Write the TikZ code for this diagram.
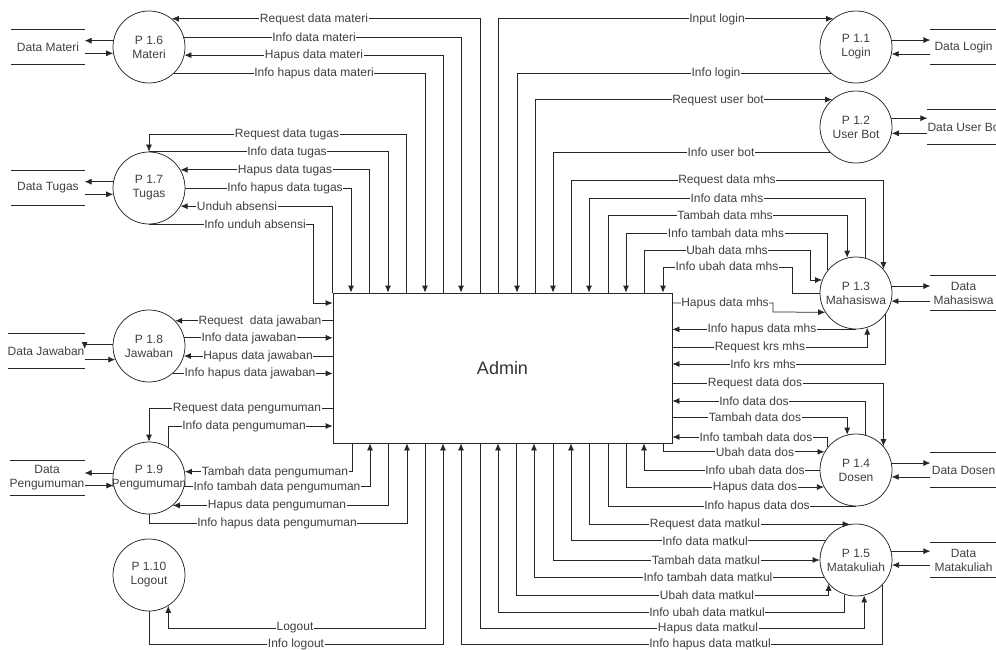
\documentclass[tikz,border=0pt]{standalone}
\usepackage{fontspec}
\setmainfont{Liberation Sans}
\usetikzlibrary{arrows.meta,positioning}
\newcommand{\fs}{\fontsize{12}{14}\selectfont}
\tikzset{proc/.style={draw=black!85, line width=0.75pt, circle, minimum size=72pt, inner sep=0pt, align=center, text=black!75, font=\fs},
plain/.style={draw=black!85, line width=0.75pt},
line/.style={plain, -{Latex[length=7pt,width=6pt]}},
lbl/.style={fill=white, inner xsep=0.6pt, inner ysep=0.4pt, text=black!75, font=\fs},
store/.style={minimum width=#1, minimum height=35pt, inner sep=0pt, align=center, text=black!75, font=\fs,
  append after command={(\tikzlastnode.north west) edge[plain] (\tikzlastnode.north east)
    (\tikzlastnode.south west) edge[plain] (\tikzlastnode.south east)}},
store/.default=73pt
}

\begin{document}
\begin{tikzpicture}[x=1pt,y=-1pt]
\useasboundingbox (0,0) rectangle (996,650);
\node[draw=black!85, line width=0.75pt, minimum width=339pt, minimum height=150pt, text=black!80, font=\fontsize{18}{20}\selectfont] (admin) at (502.5,368) {Admin};
% processes
\node[proc] (p16) at (149,47) {P 1.6\\Materi};
\node[proc] (p17) at (149,188) {P 1.7\\Tugas};
\node[proc] (p18) at (149,346) {P 1.8\\Jawaban};
\node[proc] (p19) at (149,478) {P 1.9\\\makebox[0pt]{Pengumuman}};
\node[proc] (p110) at (149,575) {P 1.10\\Logout};
\node[proc] (p11) at (856,47) {P 1.1\\Login};
\node[proc] (p12) at (856,127) {P 1.2\\User Bot};
\node[proc] (p13) at (856,293) {P 1.3\\Mahasiswa};
\node[proc] (p14) at (856,470) {P 1.4\\Dosen};
\node[proc] (p15) at (856,560) {P 1.5\\Matakuliah};
% data stores
\node[store, left=28pt of p16] (s16) {Data Materi};
\node[store, left=28pt of p17] (s17) {Data Tugas};
\node[store, left=28pt of p18, yshift=-5pt] (s18) {Data Jawaban};
\node[store, left=28pt of p19] (s19) {Data\\Pengumuman};
\node[store=66pt, right=38pt of p11] (s11) {Data Login};
\node[store=66pt, right=35pt of p12] (s12) {Data User Bot};
\node[store=66pt, right=38pt of p13] (s13) {Data\\Mahasiswa};
\node[store=66pt, right=38pt of p14] (s14) {Data Dosen};
\node[store=66pt, right=38pt of p15] (s15) {Data\\Matakuliah};
\draw[line] (p16.170) -- (s16.east |- p16.170);
\draw[line] (s16.east |- p16.190) -- (p16.190);
\draw[line] (p17.170) -- (s17.east |- p17.170);
\draw[line] (s17.east |- p17.190) -- (p17.190);
\draw[line] (p18.177) -| (s18.east |- 0,349);
\draw[line] (s18.east |- p18.202) -- (p18.202);
\draw[line] (p19.172) -- (s19.east |- p19.172);
\draw[line] (s19.east |- p19.192) -- (p19.192);
\draw[line] (p11.11) -- (s11.west |- p11.11);
\draw[line] (s11.west |- p11.-11) -- (p11.-11);
\draw[line] (p12.14) -- (s12.west |- p12.14);
\draw[line] (s12.west |- p12.-10) -- (p12.-10);
\draw[line] (p13.11) -- (s13.west |- p13.11);
\draw[line] (s13.west |- p13.-13) -- (p13.-13);
\draw[line] (p14.11) -- (s14.west |- p14.11);
\draw[line] (s14.west |- p14.-11) -- (p14.-11);
\draw[line] (p15.14) -- (s15.west |- p15.14);
\draw[line] (s15.west |- p15.-8) -- (p15.-8);
% materi
\draw[line] (admin.north -| 480,0) |- (p16.51) node[lbl] (n1) at (314,19) {Request data materi};
\draw[line] (p16.16) -| (admin.north -| 461,0) node[lbl] (n2) at (314,37) {Info data materi};
\draw[line] (admin.north -| 443,0) |- (p16.-13) node[lbl] (n3) at (314,55) {Hapus data materi};
\draw[line] (p16.-46) -| (admin.north -| 425,0) node[lbl] (n4) at (314,73) {Info hapus data materi};
% tugas
\draw[line] (admin.north -| 406,0) |- (p17.north |- 0,134) -- (p17.north) node[lbl] (n5) at (287,134) {Request data tugas};
\draw[line] (p17.north) -| (admin.north -| 388,0) node[lbl] (n6) at (287,152) {Info data tugas};
\draw[line] (admin.north -| 369,0) |- (p17.30) node[lbl] (n7) at (285,170) {Hapus data tugas};
\draw[line] (p17.east) -| (admin.north -| 351,0) node[lbl] (n8) at (285,188) {Info hapus data tugas};
\draw[line] (admin.north west) |- (p17.-30) node[lbl] (n9) at (237,206) {Unduh absensi};
\draw[line] (p17.south) -| (313,303) -- (admin.west |- 0,303) node[lbl] (n10) at (255,224) {Info unduh absensi};
% jawaban
\draw[line] (admin.west |- p18.44) -- (p18.44) node[lbl] (n11) at (260,321) {Request\ \ data jawaban};
\draw[line] (p18.13) -- (admin.west |- p18.13) node[lbl] (n12) at (249,338) {Info data jawaban};
\draw[line] (admin.west |- p18.-16) -- (p18.-16) node[lbl] (n13) at (258,356) {Hapus data jawaban};
\draw[line] (p18.-49) -- (admin.west |- p18.-49) node[lbl] (n14) at (250,373) {Info hapus data jawaban};
% pengumuman
\draw[line] (admin.west |- 0,408) -| (p19.north) node[lbl] (n15) at (247,408) {Request data pengumuman};
\draw[line] (p19.58) |- (admin.west |- 0,426) node[lbl] (n16) at (244,426) {Info data pengumuman};
\draw[line] (admin.south -| 352,0) |- (p19.10) node[lbl] (n17) at (275,472) {Tambah data pengumuman};
\draw[line] (p19.-14) -| (admin.south -| 370,0) node[lbl] (n18) at (277,487) {Info tambah data pengumuman};
\draw[line] (admin.south -| 388,0) |- (p19.-49) node[lbl] (n19) at (277,505) {Hapus data pengumuman};
\draw[line] (p19.south) |- (407,523) -- (admin.south -| 407,0) node[lbl] (n20) at (277,523) {Info hapus data pengumuman};
% logout
\draw[line] (admin.south -| 425,0) |- (p110.-58 |- 0,628) -- (p110.-58) node[lbl] (n21) at (295,628) {Logout};
\draw[line] (p110.south) |- (443,644) -- (admin.south -| 443,0) node[lbl] (n22) at (296,644) {Info logout};
% login, user bot
\draw[line] (admin.north -| 498,0) |- (p11.129) node[lbl] (n23) at (717,19) {Input login};
\draw[line] (p11.226) -| (admin.north -| 517,0) node[lbl] (n24) at (716,73) {Info login};
\draw[line] (admin.north -| 535,0) |- (p12.131) node[lbl] (n25) at (718,100) {Request user bot};
\draw[line] (p12.224) -| (admin.north -| 553,0) node[lbl] (n26) at (721,152) {Info user bot};
% mahasiswa
\draw[line] (admin.north -| 571,0) |- (p13.41 |- 0,180) -- (p13.41) node[lbl] (n27) at (727,180) {Request data mhs};
\draw[line] (p13.75) |- (589,198) -- (admin.north -| 589,0) node[lbl] (n28) at (727,198) {Info data mhs};
\draw[line] (admin.north -| 608,0) |- (p13.104 |- 0,215) -- (p13.104) node[lbl] (n29) at (725,215) {Tambah data mhs};
\draw[line] (p13.141) |- (626,233) -- (admin.north -| 626,0) node[lbl] (n30) at (726,233) {Info tambah data mhs};
\draw[line] (admin.north -| 644,0) |- (810,250) |- (p13.159) node[lbl] (n31) at (727,250) {Ubah data mhs};
\draw[line] (p13.west) -| (792,267) -| (admin.north -| 663,0) node[lbl] (n32) at (727,266) {Info ubah data mhs};
\draw[line] (admin.east |- 0,303) -| (773,312) -- (p13.212) node[lbl] (n33) at (725,303) {Hapus data mhs};
\draw[line] (p13.south) -- (admin.east |- p13.south) node[lbl] (n34) at (762,329) {Info hapus data mhs};
\draw[line] (admin.east |- 0,347) -| (p13.-72) node[lbl] (n35) at (760,347) {Request krs mhs};
\draw[line] (p13.-36) |- (admin.east |- 0,364) node[lbl] (n36) at (763,364) {Info krs mhs};
% dosen
\draw[line] (admin.east |- 0,383) -| (p14.41) node[lbl] (n37) at (755,383) {Request data dos};
\draw[line] (p14.75) |- (admin.east |- 0,401) node[lbl] (n38) at (754,401) {Info data dos};
\draw[line] (admin.east |- 0,417) -| (p14.104) node[lbl] (n39) at (755,417) {Tambah data dos};
\draw[line] (p14.141) |- (admin.east |- 0,437) node[lbl] (n40) at (756,437) {Info tambah data dos};
\draw[line] (admin.south -| 663,0) |- (p14.150) node[lbl] (n41) at (755,452) {Ubah data dos};
\draw[line] (p14.west) -| (admin.south -| 644,0) node[lbl] (n42) at (755,470) {Info ubah data dos};
\draw[line] (admin.south -| 626,0) |- (p14.208) node[lbl] (n43) at (755,487) {Hapus data dos};
\draw[plain] (p14.south) -| (admin.south -| 608,0) node[lbl] (n44) at (757,506) {Info hapus data dos};
% matakuliah
\draw[line] (admin.south -| 589,0) |- (p15.100) node[lbl] (n45) at (705,524.5) {Request data matkul};
\draw[line] (p15.148) -| (admin.south -| 571,0) node[lbl] (n46) at (705,541) {Info data matkul};
\draw[line] (admin.south -| 553,0) |- (p15.west) node[lbl] (n47) at (706,560) {Tambah data matkul};
\draw[line] (p15.208) -| (admin.south -| 534,0) node[lbl] (n48) at (708,577) {Info tambah data matkul};
\draw[line] (admin.south -| 516,0) |- (p15.221 |- 0,595) -- (p15.221) node[lbl] (n49) at (707,595) {Ubah data matkul};
\draw[line] (p15.-108) |- (498,612) -- (admin.south -| 498,0) node[lbl] (n50) at (707,612) {Info ubah data matkul};
\draw[line] (admin.south -| 480,0) |- (p15.-77 |- 0,628) -- (p15.-77) node[lbl] (n51) at (708,628) {Hapus data matkul};
\draw[line] (p15.-44) |- (461,644) -- (admin.south -| 461,0) node[lbl] (n52) at (710,644) {Info hapus data matkul};
\end{tikzpicture}
\end{document}
